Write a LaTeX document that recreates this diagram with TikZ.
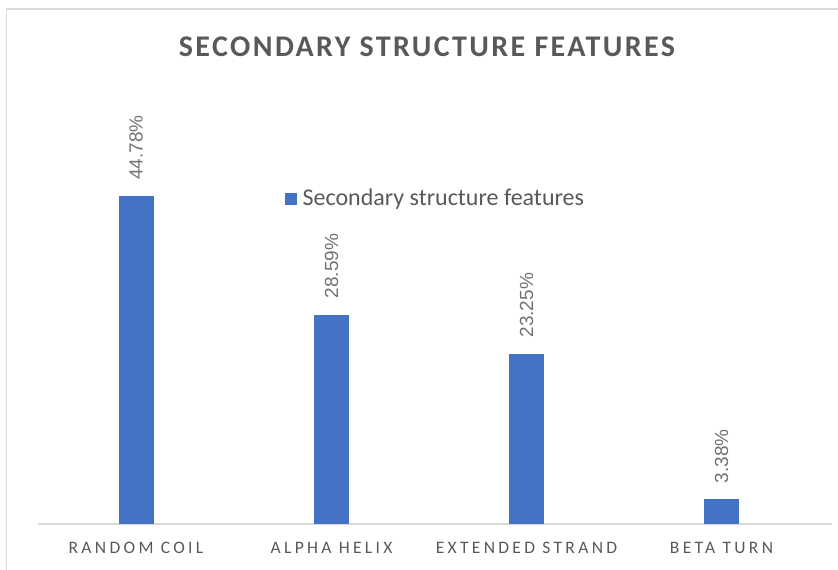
\documentclass[tikz,border=0pt]{standalone}
\usepackage{fontspec}
\setmainfont{Carlito}
\newfontfamily\valfont{Liberation Sans}
\usetikzlibrary{positioning}
\definecolor{barblue}{HTML}{4472C4}
\definecolor{txtgray}{HTML}{595959}
\definecolor{framegray}{HTML}{D9D9D9}

\begin{document}
\begin{tikzpicture}[x=1pt,y=-1pt,
	catlabel/.style={text=txtgray,inner sep=0pt,font=\fontsize{17.5}{17.5}\selectfont\addfontfeature{LetterSpace=19}},
	vallabel/.style={text=txtgray!85,inner sep=0pt,rotate=90,anchor=west,font=\valfont\fontsize{19}{19}\selectfont}]
\useasboundingbox (0,0) rectangle (838,570);
%frame
\draw[framegray,line width=1.5pt] (6.5,580) -- (6.5,9) -- (850,9);
%title
\path (427,47) node[text=txtgray,font=\bfseries\fontsize{30}{30}\selectfont\addfontfeature{LetterSpace=8}] (title) {SECONDARY STRUCTURE FEATURES};
%legend
\path (285,193) node[fill=barblue,minimum size=12pt,inner sep=0pt,anchor=north west] (key) {};
\node[right=5pt of key,inner sep=0pt,text=txtgray,font=\fontsize{24}{24}\selectfont] (keytext) {Secondary structure features};
%axis
\draw[framegray,line width=1.5pt] (38,524) -- (832,524);
%bars
\foreach \x/\v/\name/\lab in {136/44.78/RANDOM COIL/coil,331.5/28.59/ALPHA HELIX/helix,526.5/23.25/EXTENDED STRAND/strand,721.5/3.38/BETA TURN/turn}
{
	\fill[barblue] (\x-17.5,524) rectangle (\x+17.5,524-7.325*\v);
	\path (\x,524-7.325*\v-16) node[vallabel] (val-\lab) {\v\%};
	\path (\x,548) node[catlabel] (cat-\lab) {\name};
}
\end{tikzpicture}
\end{document}
